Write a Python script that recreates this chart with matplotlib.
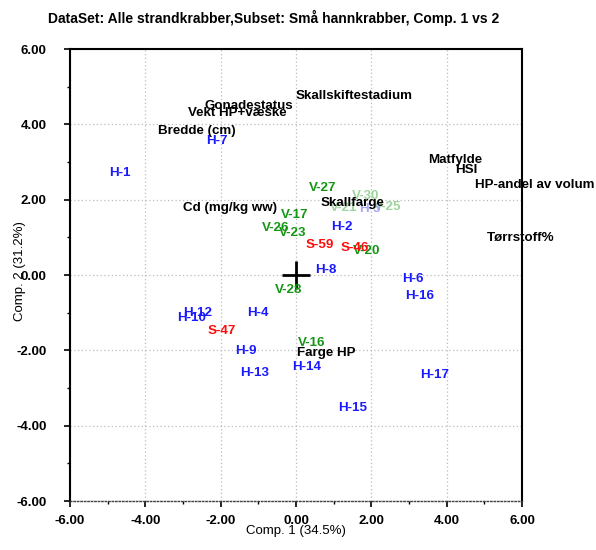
import matplotlib
matplotlib.use("Agg")
import matplotlib.pyplot as plt
import numpy as np

plt.rcParams['font.family'] = ['Liberation Sans', 'DejaVu Sans']

# Observations (scores)
h_labels = ["H-1", "H-7", "H-2", "H-8", "H-6", "H-16", "H-12", "H-10", "H-4",
            "H-9", "H-13", "H-14", "H-15", "H-17"]
h_x = [-4.67, -2.10, 1.22, 0.80, 3.11, 3.29, -2.60, -2.76, -1.01,
       -1.33, -1.09, 0.29, 1.51, 3.69]
h_y = [2.71, 3.56, 1.27, 0.13, -0.11, -0.56, -1.01, -1.14, -1.01,
       -2.02, -2.60, -2.44, -3.53, -2.65]

v_labels = ["V-27", "V-17", "V-26", "V-23", "V-20", "V-28", "V-16"]
v_x = [0.72, -0.03, -0.53, -0.08, 1.88, -0.19, 0.42]
v_y = [2.31, 1.59, 1.25, 1.11, 0.64, -0.40, -1.81]

s_labels = ["S-59", "S-46", "S-47"]
s_x = [0.64, 1.57, -1.96]
s_y = [0.80, 0.72, -1.49]

# faded (overlapped) observations
faded_v_labels = ["V-30", "V-21", "V-25"]
faded_v_x = [1.86, 1.27, 2.44]
faded_v_y = [2.10, 1.78, 1.80]
faded_h_labels = ["H-5"]
faded_h_x = [1.96]
faded_h_y = [1.75]

# Variables (loadings)
var_labels = ["Skallskiftestadium", "Gonadestatus", "Vekt HP+væske", "Bredde (cm)",
              "Matfylde", "HSI", "HP-andel av volum", "Skallfarge",
              "Cd (mg/kg ww)", "Tørrstoff%", "Farge HP"]
var_x = [1.54, -1.25, -1.57, -2.63, 4.22, 4.51, 6.34, 1.51, -1.75, 5.97, 0.80]
var_y = [4.75, 4.49, 4.30, 3.82, 3.05, 2.79, 2.39, 1.91, 1.78, 0.98, -2.07]

ticks = [-6, -4, -2, 0, 2, 4, 6]
tick_labels = ["-6.00", "-4.00", "-2.00", "0.00", "2.00", "4.00", "6.00"]

fig = plt.figure(figsize=(5.96, 5.5), dpi=100)
ax = fig.add_axes([70/596, 1-501/550, 452/596, 452/550])
ax.set_xlim(-6, 6)
ax.set_ylim(-6, 6)

ax.set_xticks(ticks)
ax.set_yticks(ticks)
ax.set_xticklabels(tick_labels, fontweight='bold', fontsize=9.5)
ax.set_yticklabels(tick_labels, fontweight='bold', fontsize=9.5)
ax.set_xticks([-5, -3, -1, 1, 3, 5], minor=True)
ax.set_yticks([-5, -3, -1, 1, 3, 5], minor=True)
ax.tick_params(axis='both', which='major', direction='out', length=4, width=1.2, color='black')
ax.tick_params(axis='both', which='minor', direction='out', length=2, width=1.0, color='black')
ax.tick_params(axis='y', which='major', pad=13)
ax.tick_params(axis='x', which='major', pad=6)

ax.grid(True, which='major', linestyle=(0, (1, 2)), color='#bcbcbc', linewidth=0.9)
ax.set_axisbelow(True)

for side in ['left', 'top', 'right']:
    ax.spines[side].set_linewidth(1.5)
    ax.spines[side].set_color('black')
ax.spines['bottom'].set_linestyle((0, (1, 1.5)))
ax.spines['bottom'].set_linewidth(1.0)
ax.spines['bottom'].set_color('#404040')

# origin cross
ax.plot([0], [0], marker='+', markersize=20, markeredgewidth=2, color='black')

fs = 9.6
for lab, x, y in zip(faded_v_labels, faded_v_x, faded_v_y):
    ax.text(x, y, lab, color='#9fd49f', fontsize=fs, fontweight='bold', ha='center', va='center')
for lab, x, y in zip(faded_h_labels, faded_h_x, faded_h_y):
    ax.text(x, y, lab, color='#a8a8f5', fontsize=fs, fontweight='bold', ha='center', va='center')
for lab, x, y in zip(h_labels, h_x, h_y):
    ax.text(x, y, lab, color='#1a1aff', fontsize=fs, fontweight='bold', ha='center', va='center')
for lab, x, y in zip(v_labels, v_x, v_y):
    ax.text(x, y, lab, color='#149614', fontsize=fs, fontweight='bold', ha='center', va='center')
for lab, x, y in zip(s_labels, s_x, s_y):
    ax.text(x, y, lab, color='#ff0d0d', fontsize=fs, fontweight='bold', ha='center', va='center')
for lab, x, y in zip(var_labels, var_x, var_y):
    ax.text(x, y, lab, color='black', fontsize=fs, fontweight='bold', ha='center', va='center',
            clip_on=False)

fig.text(48/596, 1-18/550, "DataSet: Alle strandkrabber,Subset: Små hannkrabber, Comp. 1 vs 2",
         fontsize=10, fontweight='bold', ha='left', va='center')
fig.text(296/596, 1-531/550, "Comp. 1 (34.5%)", fontsize=9.5, ha='center', va='center')
fig.text(20/596, 1-271/550, "Comp. 2 (31.2%)", fontsize=9.5, ha='center', va='center', rotation=90)

fig.savefig("out.png", dpi=100)
